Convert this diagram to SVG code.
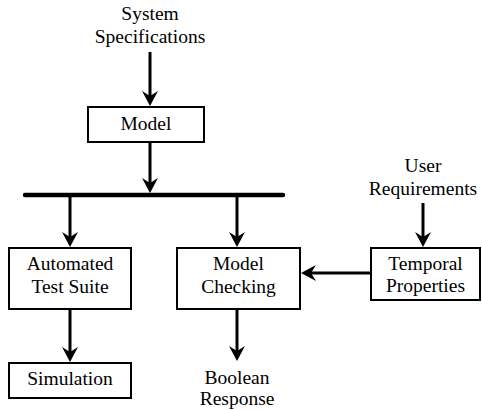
<svg xmlns="http://www.w3.org/2000/svg" width="482" height="410" viewBox="0 0 482 410" font-family="'Liberation Serif', 'Times New Roman', 'DejaVu Serif', serif">
<defs>
<style>
.box{fill:#fff;stroke:#000;stroke-width:2}
.t{font-family:'Liberation Serif','Times New Roman','DejaVu Serif',serif;font-size:19.5px;fill:#000;text-anchor:middle}
.c{stroke:#000;stroke-width:3;fill:none;marker-end:url(#ah)}
</style>
<marker id="ah" viewBox="-16 -9 17 18" refX="-6" refY="0" markerWidth="17" markerHeight="18" markerUnits="userSpaceOnUse" orient="auto">
<path d="M0,0 L-15,-8 L-10,0 L-15,8 Z" fill="#000"/>
</marker>
</defs>
<rect width="482" height="410" fill="#fff"/>
<g id="connectors">
<line class="c" x1="150" y1="52" x2="150" y2="100"/>
<line class="c" x1="150" y1="143" x2="150" y2="187"/>
<line x1="25" y1="195" x2="283" y2="195" stroke="#000" stroke-width="4.5" stroke-linecap="round"/>
<line class="c" x1="70" y1="197" x2="70" y2="241"/>
<line class="c" x1="237" y1="197" x2="237" y2="241"/>
<line class="c" x1="70" y1="310" x2="70" y2="356"/>
<line class="c" x1="237" y1="310" x2="237" y2="355"/>
<line class="c" x1="423" y1="203" x2="423" y2="241"/>
<line class="c" x1="370" y1="273" x2="307" y2="273"/>
</g>
<g id="system-specifications">
<text class="t" x="150" y="20">System</text>
<text class="t" x="150" y="42.5">Specifications</text>
</g>
<g id="model">
<rect class="box" x="88" y="107" width="116" height="35"/>
<text class="t" x="146" y="130">Model</text>
</g>
<g id="automated-test-suite">
<rect class="box" x="9" y="248" width="122" height="61"/>
<text class="t" x="70" y="270">Automated</text>
<text class="t" x="70" y="293">Test Suite</text>
</g>
<g id="model-checking">
<rect class="box" x="177" y="248" width="123" height="61"/>
<text class="t" x="238.5" y="270">Model</text>
<text class="t" x="238.5" y="293">Checking</text>
</g>
<g id="user-requirements">
<text class="t" x="423" y="172">User</text>
<text class="t" x="423" y="195">Requirements</text>
</g>
<g id="temporal-properties">
<rect class="box" x="371" y="248" width="109" height="52"/>
<text class="t" x="425.5" y="270">Temporal</text>
<text class="t" x="425.5" y="292">Properties</text>
</g>
<g id="simulation">
<rect class="box" x="9" y="363" width="122" height="35"/>
<text class="t" x="70" y="385">Simulation</text>
</g>
<g id="boolean-response">
<text class="t" x="237" y="384">Boolean</text>
<text class="t" x="237" y="405">Response</text>
</g>
</svg>
